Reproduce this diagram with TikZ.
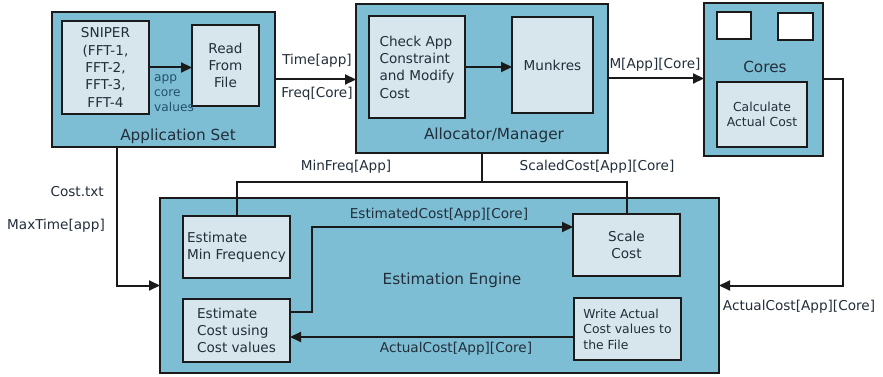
\documentclass[tikz,border=0pt]{standalone}
\usepackage{fontspec}
\setmainfont{DejaVu Sans}
\usetikzlibrary{arrows.meta,calc}
\definecolor{outerfill}{HTML}{7EBED4}
\definecolor{innerfill}{HTML}{D6E6EC}
\definecolor{ink}{HTML}{222E3A}
\definecolor{edge}{HTML}{1A1A1A}
\definecolor{notecol}{HTML}{22506E}
\begin{document}
\begin{tikzpicture}[x=1pt,y=-1pt,
  outer/.style={draw=edge,line width=2pt,fill=outerfill,anchor=north west,inner sep=0pt,outer sep=0pt},
  inner/.style={draw=edge,line width=2pt,fill=innerfill,anchor=north west,inner sep=0pt,outer sep=0pt,
    text=ink,font=\fontsize{13.6}{17.3}\selectfont},
  small/.style={font=\fontsize{12.4}{15.5}\selectfont},
  white box/.style={draw=edge,line width=2pt,fill=white,anchor=north west,inner sep=0pt,outer sep=0pt},
  title/.style={text=ink,font=\fontsize{15.3}{18}\selectfont,inner sep=0pt},
  lbl/.style={text=ink,font=\fontsize{13.6}{16}\selectfont,inner sep=0pt},
  arr/.style={draw=edge,line width=2pt,-{Triangle[length=11pt,width=10pt]}},
  wire/.style={draw=edge,line width=2pt},
]
\useasboundingbox (0,0) rectangle (883,377);
\fill[white] (0,0) rectangle (883,377);

% ---------- Application Set ----------
\node[outer,minimum width=223pt,minimum height=135pt] (appset) at (52,12) {};
\node[inner,minimum width=87pt,minimum height=93pt,align=center] (sniper) at (62,21)
  {SNIPER\\(FFT-1,\\FFT-2,\\FFT-3,\\FFT-4};
\node[inner,minimum width=67pt,minimum height=81pt,align=center] (read) at (192,25)
  {Read\\From\\File};
\node[title] (appsettitle) at (178,136) {Application Set};
\node[anchor=north west,inner sep=0pt,align=left,text=notecol,font=\fontsize{12.2}{15}\selectfont]
  (appcore) at (154,74) {app\\core\\values};

% ---------- Allocator/Manager ----------
\node[outer,minimum width=252pt,minimum height=149pt] (alloc) at (356,4) {};
\node[inner,minimum width=96pt,minimum height=102pt,align=left] (check) at (369,16)
  {Check App\\Constraint\\and Modify\\Cost};
\node[inner,minimum width=81pt,minimum height=96pt] (munkres) at (512,17) {Munkres};
\node[title] (alloctitle) at (494,135) {Allocator/Manager};

% ---------- Cores ----------
\node[outer,minimum width=119pt,minimum height=153pt] (cores) at (704,3) {};
\node[white box,minimum width=34pt,minimum height=27pt] (coreA) at (717,12) {};
\node[white box,minimum width=35pt,minimum height=27pt] (coreB) at (778,13) {};
\node[title] (corestitle) at (765,67) {Cores};
\node[inner,small,minimum width=90pt,minimum height=65pt,align=center] (calc) at (717,82)
  {Calculate\\Actual Cost};

% ---------- Estimation Engine ----------
\node[outer,minimum width=559pt,minimum height=175pt] (engine) at (160,198) {};
\node[title] (enginetitle) at (452,280) {Estimation Engine};
\node[inner,minimum width=107pt,minimum height=62pt,align=left] (minfreq) at (183,216)
  {Estimate\\Min Frequency};
\node[inner,minimum width=107pt,minimum height=63pt,align=left] (estcost) at (183,299)
  {Estimate\\Cost using\\Cost values};
\node[inner,minimum width=107pt,minimum height=62pt,align=center] (scale) at (573,214)
  {Scale\\Cost};
\node[inner,small,minimum width=107pt,minimum height=62pt,align=left] (write) at (574,298)
  {Write Actual\\Cost values to\\the File};

% ---------- Connectors ----------
\draw[arr] (sniper.east) -- (sniper.east -| read.west);
\draw[arr] (appset.east) -- (appset.east -| alloc.west);
\draw[arr] (check.east) -- (check.east -| munkres.west);
\draw[arr] (alloc.east) -- (alloc.east -| cores.west);
\draw[arr] (cores.east) -- ++(20,0) |- (engine.east);
\draw[arr] ($(appset.south west)+(65,0)$) |- (engine.west);

\coordinate (bus) at (0,182);
\draw[wire] (alloc.south) -- (alloc.south |- bus);
\draw[wire] (minfreq.north) |- (bus -| scale.north) -- (scale.north);

\draw[arr] ([yshift=18.5pt]estcost.east) -- ++(22,0) |- ([yshift=18pt]scale.west);
\draw[arr] ([yshift=-8pt]write.west) -- ([yshift=-8pt]write.west -| estcost.east);

% ---------- Connector labels ----------
\node[lbl] (ltime) at (317,61) {Time[app]};
\node[lbl] (lfreq) at (317,94) {Freq[Core]};
\node[lbl] (lm) at (655,65) {M[App][Core]};
\node[lbl] (lminfreq) at (346,167) {MinFreq[App]};
\node[lbl] (lscaled) at (597,167) {ScaledCost[App][Core]};
\node[lbl,anchor=east] (lcost) at (104,192) {Cost.txt};
\node[lbl,anchor=east] (lmaxtime) at (105,226) {MaxTime[app]};
\node[lbl] (lest) at (439,215) {EstimatedCost[App][Core]};
\node[lbl] (lactin) at (456,349) {ActualCost[App][Core]};
\node[lbl] (lactout) at (799,307) {ActualCost[App][Core]};
\end{tikzpicture}
\end{document}
